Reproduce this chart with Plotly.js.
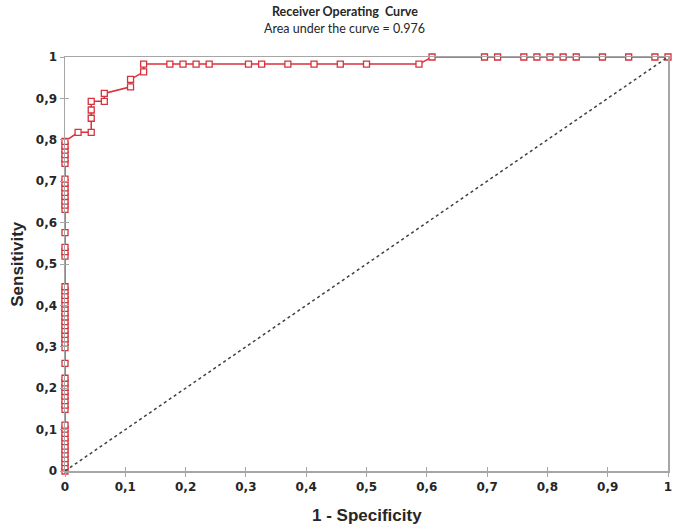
<!DOCTYPE html>
<html>
<head>
<meta charset="utf-8">
<script src="https://cdn.plot.ly/plotly-3.0.1.min.js"></script>
<style>html,body{margin:0;padding:0;background:#fff;}#chart{width:681px;height:531px;}</style>
</head>
<body>
<div id="chart"></div>
<script>
// ROC curve points (1 - specificity, sensitivity)
const fpr = [
  0,0,0,0,0,0,0,0,0,0,0,0,
  0,0,0,0,0,0,0,0,
  0,
  0,0,0,0,0,0,0,0,0,0,0,0,0,0,0,
  0,0,0,
  0,
  0,0,0,0,0,0,0,0,
  0,0,0,0,0,0,
  0.0217,0.0435,0.0435,0.0435,0.0435,0.0652,0.0652,0.1087,0.1087,0.1304,0.1304,
  0.1739,0.1957,0.2174,0.2391,0.3043,0.3261,0.3696,0.4130,0.4565,0.5000,0.5870,
  0.6087,0.6957,0.7174,0.7609,0.7826,0.8043,0.8261,0.8478,0.8913,0.9348,0.9783,1
];
const tpr = [
  0,0.010,0.020,0.030,0.041,0.051,0.060,0.071,0.080,0.091,0.101,0.111,
  0.149,0.159,0.170,0.181,0.192,0.202,0.213,0.224,
  0.260,
  0.298,0.309,0.319,0.330,0.340,0.351,0.361,0.372,0.382,0.393,0.403,0.414,0.424,0.435,0.445,
  0.519,0.530,0.540,
  0.576,
  0.632,0.642,0.652,0.663,0.673,0.684,0.695,0.705,
  0.743,0.754,0.764,0.775,0.785,0.796,
  0.818,0.818,0.852,0.872,0.893,0.893,0.912,0.928,0.946,0.964,0.983,
  0.983,0.983,0.983,0.983,0.983,0.983,0.983,0.983,0.983,0.983,0.983,
  1,1,1,1,1,1,1,1,1,1,1,1
];
// Reference diagonal
const diagX = [0, 1];
const diagY = [0, 1];
const tickVals = [0,0.1,0.2,0.3,0.4,0.5,0.6,0.7,0.8,0.9,1];
const tickText = ["0","0,1","0,2","0,3","0,4","0,5","0,6","0,7","0,8","0,9","1"];

const red = '#d8323c';
const axisGray = '#a6a6a6';
const tickFont = {family:'DejaVu Sans', size:12, color:'#262626', weight:'bold'};

const traces = [
  {x: diagX, y: diagY, xaxis:'x2', yaxis:'y2', mode:'lines', type:'scatter',
   line:{color:'#404040', width:1.5, dash:'dot'}, hoverinfo:'skip', cliponaxis:false},
  {x: fpr, y: tpr, mode:'lines+markers', type:'scatter', cliponaxis:false,
   line:{color:red, width:1.5},
   marker:{symbol:'square', size:6, color:'#ffffff', line:{color:red, width:1.3}}}
];

const baseAxis = {range:[0,1], tickvals:tickVals, ticktext:tickText, showgrid:false, zeroline:false, fixedrange:true};

const layout = {
  width:681, height:531,
  margin:{l:65, r:13, t:57, b:60, pad:0},
  paper_bgcolor:'#ffffff', plot_bgcolor:'#ffffff',
  showlegend:false,
  xaxis: Object.assign({}, baseAxis, {showline:true, linecolor:axisGray, linewidth:1.5, mirror:true,
          ticks:'outside', ticklen:4, tickcolor:axisGray, tickwidth:1, tickfont:tickFont}),
  yaxis: Object.assign({}, baseAxis, {showline:true, linecolor:axisGray, linewidth:1.5, mirror:true,
          ticks:'outside', ticklen:4, tickcolor:axisGray, tickwidth:1, tickfont:tickFont}),
  xaxis2: Object.assign({}, baseAxis, {overlaying:'x', anchor:'y2', side:'bottom', showline:false,
          ticks:'inside', ticklen:4, tickcolor:axisGray, tickwidth:1, showticklabels:false}),
  yaxis2: Object.assign({}, baseAxis, {overlaying:'y', anchor:'x2', side:'left', showline:false,
          ticks:'inside', ticklen:4, tickcolor:axisGray, tickwidth:1, showticklabels:false}),
  annotations: [
    {text:'<b>Receiver Operating  Curve</b>', xref:'paper', yref:'paper', x:0.464, y:1.111,
     showarrow:false, xanchor:'center', yanchor:'middle', font:{family:'Lato', size:12.5, color:'#262626'}},
    {text:'Area under the curve = 0.976', xref:'paper', yref:'paper', x:0.464, y:1.070,
     showarrow:false, xanchor:'center', yanchor:'middle', font:{family:'Lato', size:12.5, color:'#262626'}},
    {text:'<b>1 - Specificity</b>', xref:'paper', yref:'paper', x:0.5, y:-0.108,
     showarrow:false, xanchor:'center', yanchor:'middle', font:{family:'Liberation Sans', size:17, color:'#262626'}},
    {text:'<b>Sensitivity</b>', xref:'paper', yref:'paper', x:-0.08, y:0.5, textangle:-90,
     showarrow:false, xanchor:'center', yanchor:'middle', font:{family:'Liberation Sans', size:17, color:'#262626'}}
  ]
};

Plotly.newPlot('chart', traces, layout, {displayModeBar:false, staticPlot:true});
</script>
</body>
</html>
